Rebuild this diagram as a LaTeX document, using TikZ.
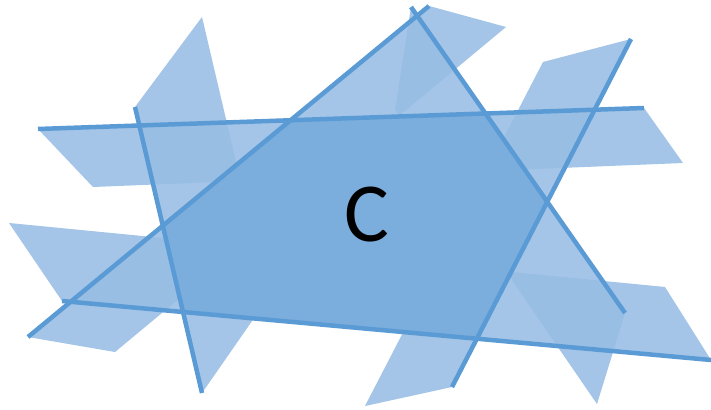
\documentclass[tikz,border=0pt]{standalone}
\usepackage{fontspec}
\setmainfont{Carlito}
\definecolor{lineblue}{HTML}{5B9BD5}
\definecolor{patchbase}{HTML}{B2CEEB}
\definecolor{cfill}{HTML}{7CAEDD}
\begin{document}
\begin{tikzpicture}[x=1pt,y=-1pt,
  patchbase/.style={fill=patchbase,draw=none},
  patchtint/.style={fill=lineblue,fill opacity=0.16,draw=none},
  bline/.style={draw=lineblue,line width=4.5pt}]
\useasboundingbox (0,0) rectangle (711,409);
% line end points
\coordinate (a1) at (38,129);  \coordinate (b1) at (644,108);
\coordinate (a2) at (135,107); \coordinate (b2) at (202,393);
\coordinate (a3) at (28,337);  \coordinate (b3) at (429,6);
\coordinate (a4) at (411,7);   \coordinate (b4) at (625,313);
\coordinate (a5) at (631,39);  \coordinate (b5) at (452,387);
\coordinate (a6) at (62,301);  \coordinate (b6) at (711,360);
% half-plane patch outlines
\def\pA{(a1) -- (b1) -- (683,163) -- (93,187) -- cycle}
\def\pB{(a2) -- (202,17) -- (268,298) -- (b2) -- cycle}
\def\pC{(a3) -- (b3) -- (506,27) -- (115,352) -- cycle}
\def\pD{(a4) -- (b4) -- (597,404) -- (395,110) -- cycle}
\def\pE{(a5) -- (b5) -- (365,406) -- (543,62) -- cycle}
\def\pF{(a6) -- (9,223) -- (665,287) -- (b6) -- cycle}
\foreach \p in {\pA,\pB,\pC,\pD,\pE,\pF} {\fill[patchbase] \p;}
\foreach \p in {\pA,\pB,\pC,\pD,\pE,\pF} {\fill[patchtint] \p;}
% region C
\coordinate (c13) at (intersection of a1--b1 and a3--b3);
\coordinate (c14) at (intersection of a1--b1 and a4--b4);
\coordinate (c45) at (intersection of a4--b4 and a5--b5);
\coordinate (c56) at (intersection of a5--b5 and a6--b6);
\coordinate (c62) at (intersection of a6--b6 and a2--b2);
\coordinate (c23) at (intersection of a2--b2 and a3--b3);
\fill[cfill] (c13) -- (c14) -- (c45) -- (c56) -- (c62) -- (c23) -- cycle;
% lines
\draw[bline] (a1) -- (b1);
\draw[bline] (a2) -- (b2);
\draw[bline] (a3) -- (b3);
\draw[bline] (a4) -- (b4);
\draw[bline] (a5) -- (b5);
\draw[bline] (a6) -- (b6);
\node[inner sep=0pt,font=\fontsize{84}{84}\selectfont] (lab) at (367,215) {C};
\end{tikzpicture}
\end{document}
